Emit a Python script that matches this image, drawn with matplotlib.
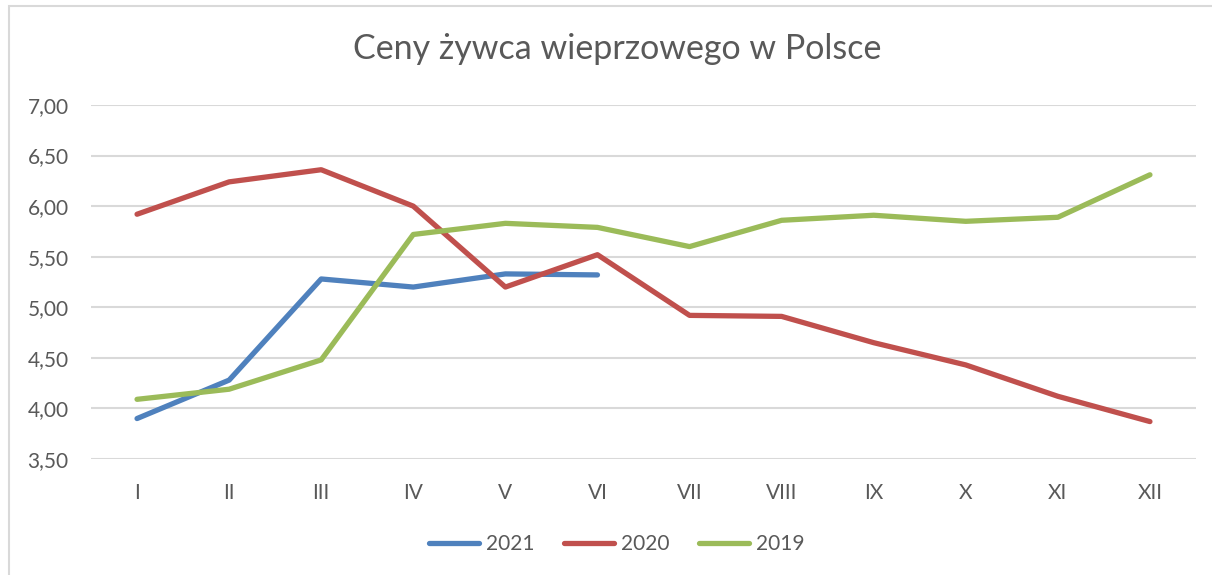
import matplotlib
matplotlib.use("Agg")
import matplotlib.pyplot as plt
from matplotlib.patches import Rectangle
from matplotlib.lines import Line2D

months = ["I", "II", "III", "IV", "V", "VI", "VII", "VIII", "IX", "X", "XI", "XII"]
y2021 = [3.90, 4.28, 5.28, 5.20, 5.33, 5.32]
y2020 = [5.92, 6.24, 6.36, 6.00, 5.20, 5.52, 4.92, 4.91, 4.65, 4.43, 4.12, 3.87]
y2019 = [4.09, 4.19, 4.48, 5.72, 5.83, 5.79, 5.60, 5.86, 5.91, 5.85, 5.89, 6.31]
yticks = [3.5, 4.0, 4.5, 5.0, 5.5, 6.0, 6.5, 7.0]

plt.rcParams['font.family'] = ['Lato', 'DejaVu Sans']
W, H = 1212, 575
fig = plt.figure(figsize=(W / 100, H / 100), dpi=100)
fig.patch.set_facecolor("white")

# outer chart border
fig.patches.append(Rectangle((9 / W, -0.1), 1.2, 1.1 - 6 / H, transform=fig.transFigure,
                             fill=False, edgecolor="#D9D9D9", linewidth=1.5))

ax = fig.add_axes([91 / W, 1 - 459 / H, (1196 - 91) / W, (459 - 105) / H])
x = list(range(len(months)))
lw = 3.8
ax.plot(x[:len(y2021)], y2021, color="#4F81BD", lw=lw, solid_capstyle="round", solid_joinstyle="round", zorder=3)
ax.plot(x, y2020, color="#C0504D", lw=lw, solid_capstyle="round", solid_joinstyle="round", zorder=3)
ax.plot(x, y2019, color="#9BBB59", lw=lw, solid_capstyle="round", solid_joinstyle="round", zorder=3)

ax.set_xlim(-0.5, len(months) - 0.5)
ax.set_ylim(3.5, 7.0)
ax.set_yticks(yticks)
ax.set_yticklabels([f"{v:.2f}".replace(".", ",") for v in yticks])
ax.set_xticks(x)
ax.set_xticklabels(months)
ax.grid(axis="y", color="#D9D9D9", lw=1.5)
ax.set_axisbelow(True)
for s in ax.spines.values():
    s.set_visible(False)
ax.tick_params(axis="both", length=0, colors="#595959", labelsize=15)
ax.tick_params(axis="y", pad=16)
ax.tick_params(axis="x", pad=17)

fig.text(617 / W, 1 - 49 / H, "Ceny żywca wieprzowego w Polsce", ha="center", va="center",
         fontsize=24.5, color="#595959")

handles = [Line2D([], [], color=c, lw=lw, solid_capstyle="round") for c in ["#4F81BD", "#C0504D", "#9BBB59"]]
fig.legend(handles, ["2021", "2020", "2019"], loc="center", bbox_to_anchor=(617 / W, 1 - 544 / H),
           ncol=3, frameon=False, fontsize=15, labelcolor="#595959", handlelength=2.4,
           handletextpad=0.35, columnspacing=1.4)

fig.savefig("out.png", dpi=100)
